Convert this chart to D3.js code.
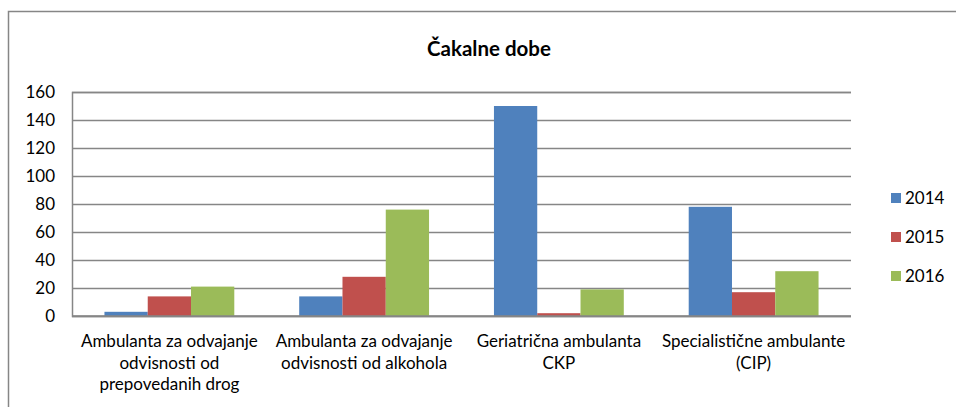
<!DOCTYPE html>
<html>
<head>
<meta charset="utf-8">
<script src="https://cdn.jsdelivr.net/npm/d3@7"></script>
<style>
    body { margin: 0; background: #fff; }
    svg { display: block; font-family: Lato, "Open Sans", sans-serif; }
</style>
</head>
<body>
<svg id="vis" width="956" height="407"></svg>
<script>
// chart data
const CATEGORY_LINES = [
    ["Ambulanta za odvajanje", "odvisnosti od", "prepovedanih drog"],
    ["Ambulanta za odvajanje", "odvisnosti od alkohola"],
    ["Geriatrična ambulanta", "CKP"],
    ["Specialistične ambulante", "(CIP)"]
];
const CATEGORIES = CATEGORY_LINES.map(l => l.join(" "));
const YEARS = ["2014", "2015", "2016"];
const VALUES_2014 = [3, 14, 150, 78];
const VALUES_2015 = [14, 28, 2, 17];
const VALUES_2016 = [21, 76, 19, 32];
const Y_TICKS = [0, 20, 40, 60, 80, 100, 120, 140, 160];

const COLORS = ["#4F81BD", "#C0504D", "#9BBB59"];
const MARGINS = {top: 92, right: 105, bottom: 91, left: 72};
const GRID = "#868686";

var svg = d3.select("#vis");
var width = 956, height = 407;

// outer chart frame (runs off the right and bottom edge)
svg.append("rect")
    .attr("x", 8.5).attr("y", 11.5)
    .attr("width", 1000).attr("height", 500)
    .attr("fill", "#fff")
    .attr("stroke", GRID)
    .attr("stroke-width", 1.5);

svg.append("text")
    .attr("x", 489).attr("y", 56)
    .attr("text-anchor", "middle")
    .style("font-size", "20.5px")
    .style("font-weight", "bold")
    .attr("fill", "#000")
    .text("Čakalne dobe");

var series = [VALUES_2014, VALUES_2015, VALUES_2016];

// Excel style: gap width 150% of one bar -> bars take 3/4.5 of a slot
var x0 = d3.scaleBand()
    .domain(CATEGORIES)
    .range([MARGINS.left, width - MARGINS.right])
    .paddingInner(1.5 / 4.5)
    .paddingOuter(1.5 / 4.5 / 2);

var x1 = d3.scaleBand()
    .domain(YEARS)
    .range([0, x0.bandwidth()]);

var y = d3.scaleLinear()
    .domain([0, 160])
    .range([height - MARGINS.bottom, MARGINS.top]);

// gridlines + y labels
var yAxis = d3.axisLeft(y)
    .tickValues(Y_TICKS)
    .tickSize(-(width - MARGINS.right - MARGINS.left))
    .tickPadding(17);
var gy = svg.append("g")
    .attr("transform", `translate(${MARGINS.left},0)`)
    .call(yAxis);
gy.select(".domain").attr("stroke", GRID).attr("stroke-width", 1.5);
gy.selectAll(".tick line").attr("stroke", GRID).attr("stroke-width", 1.5);
gy.selectAll(".tick text")
    .attr("fill", "#000")
    .style("font-size", "17px")
    .style("font-family", "Lato, sans-serif");

// bars
var groups = svg.append("g").selectAll("g")
    .data(CATEGORIES)
    .enter().append("g")
    .attr("transform", d => `translate(${x0(d)},0)`);

groups.selectAll("rect")
    .data((d, i) => YEARS.map((yr, k) => ({year: yr, value: series[k][i]})))
    .enter().append("rect")
    .attr("x", d => x1(d.year))
    .attr("width", x1.bandwidth())
    .attr("y", d => y(d.value))
    .attr("height", d => y(0) - y(d.value))
    .attr("fill", (d, k) => COLORS[k]);

// x axis line on top of bars
svg.append("line")
    .attr("x1", MARGINS.left).attr("x2", width - MARGINS.right)
    .attr("y1", y(0)).attr("y2", y(0))
    .attr("stroke", GRID).attr("stroke-width", 1.5);

// category labels
var labels = svg.append("g").selectAll("text")
    .data(CATEGORY_LINES)
    .enter().append("text")
    .attr("text-anchor", "middle")
    .attr("fill", "#000")
    .style("font-size", "17px")
    .attr("transform", (d, i) => `translate(${x0(CATEGORIES[i]) + x0.bandwidth() / 2},${height - MARGINS.bottom + 31})`);
labels.selectAll("tspan")
    .data(d => d)
    .enter().append("tspan")
    .attr("x", 0)
    .attr("y", (d, i) => i * 21.5)
    .text(d => d);

// legend
var legend = svg.append("g").selectAll("g")
    .data(YEARS)
    .enter().append("g")
    .attr("transform", (d, i) => `translate(891,${198 + i * 39})`);
legend.append("rect")
    .attr("x", 0).attr("y", -5)
    .attr("width", 10).attr("height", 10)
    .attr("fill", (d, i) => COLORS[i]);
legend.append("text")
    .attr("x", 14).attr("y", 6)
    .attr("fill", "#000")
    .style("font-size", "17px")
    .text(d => d);
</script>
</body>
</html>
